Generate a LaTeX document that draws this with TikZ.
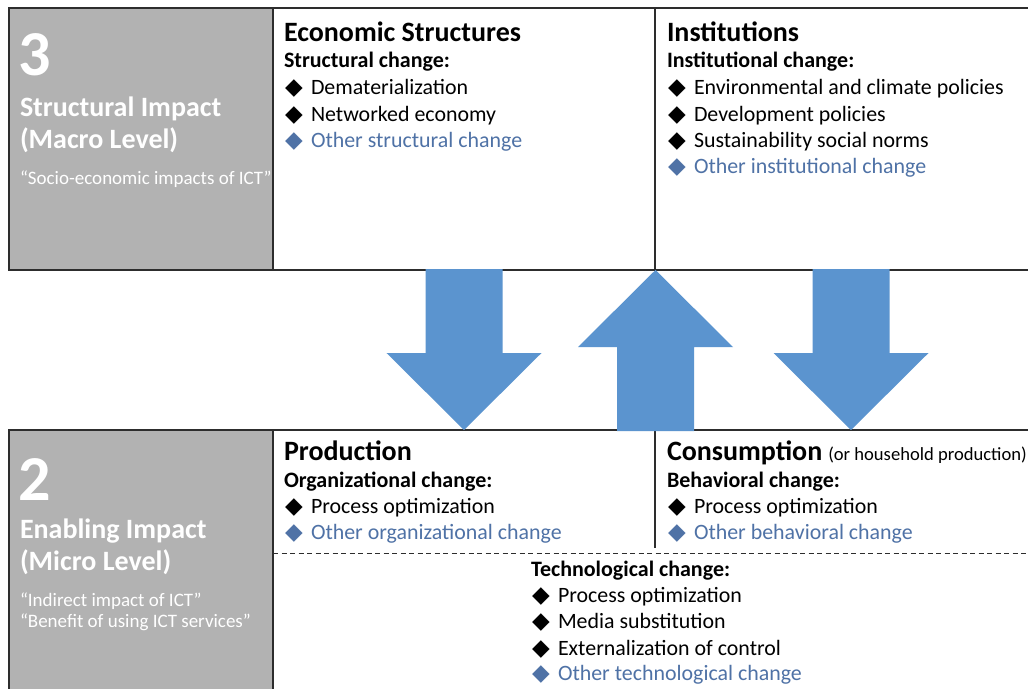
\documentclass[tikz,border=0pt]{standalone}
\usepackage{fontspec}
\setmainfont{Carlito}
\newfontfamily\symfont{DejaVu Sans}

\definecolor{panelgray}{RGB}{178,178,178}
\definecolor{arrowblue}{RGB}{91,148,207}
\definecolor{otherblue}{RGB}{79,114,166}
\definecolor{framegray}{RGB}{45,45,45}

% bullet glyph followed by a fixed gap
\newcommand{\bulletmark}{\makebox[26pt][l]{\symfont\fontsize{23}{23}\selectfont ◆}}

\tikzset{
  txt/.style={anchor=base west, inner sep=0pt, outer sep=0pt},
  heading/.style={txt, font=\fontsize{28}{32}\selectfont\bfseries},
  subhead/.style={txt, font=\fontsize{22}{26}\selectfont\bfseries},
  item/.style={txt, font=\fontsize{21.9}{26}\selectfont},
  otheritem/.style={item, text=otherblue},
  aside/.style={txt, font=\fontsize{18.6}{22}\selectfont},
  bignum/.style={txt, text=white, font=\fontsize{64}{64}\selectfont\bfseries},
  level/.style={txt, text=white, font=\fontsize{28}{32}\selectfont\bfseries},
  quote/.style={txt, text=white, font=\fontsize{19}{22}\selectfont},
  frameline/.style={draw=framegray, line width=1.3pt},
  dashline/.style={draw=framegray, line width=1pt, dash pattern=on 5pt off 3.5pt},
  blockarrow/.style={fill=arrowblue, draw=none},
}

\begin{document}
\begin{tikzpicture}[x=1pt, y=-1pt]
\useasboundingbox[fill=white] (0,0) rectangle (1028,689);

% ---- grey level panels ----
\fill[panelgray] (9,8) rectangle (273,270);
\fill[panelgray] (9,430) rectangle (273,689);

% ---- frame of the macro level ----
\draw[frameline] (1028,8) -- (9,8) -- (9,270) -- (1028,270);
\draw[frameline] (273,8) -- (273,270);
\draw[frameline] (655,8) -- (655,270);

% ---- frame of the micro level ----
\draw[frameline] (1028,430) -- (9,430) -- (9,689);
\draw[frameline] (273,430) -- (273,689);
\draw[frameline] (655,430) -- (655,548);
\draw[dashline] (273,553) -- (1028,553);

% ---- block arrows between the levels ----
\fill[blockarrow] (425.5,269) -- (502.5,269) -- (502.5,353) -- (541.5,353)
  -- (464,430) -- (386.5,353) -- (425.5,353) -- cycle;
\fill[blockarrow] (655.5,270) -- (733,347) -- (694,347) -- (694,431)
  -- (617,431) -- (617,347) -- (578,347) -- cycle;
\fill[blockarrow] (812.5,269) -- (889.5,269) -- (889.5,353) -- (928.5,353)
  -- (851,430) -- (773.5,353) -- (812.5,353) -- cycle;

% ---- level 3 panel ----
\node[bignum] (n3) at (19,75) {3};
\node[level] (l3a) at (20,116) {Structural Impact};
\node[level] (l3b) at (20,148) {(Macro Level)};
\node[quote] (q3) at (20,184) {“Socio-economic impacts of ICT”};

% ---- economic structures ----
\node[heading] (econ) at (284,41) {Economic Structures};
\node[subhead] (econsub) at (284,67) {Structural change:};
\node[item] (econ1) at (285,94) {\bulletmark Dematerialization};
\node[item] (econ2) at (285,121) {\bulletmark Networked economy};
\node[otheritem] (econ3) at (285,147) {\bulletmark Other structural change};

% ---- institutions ----
\node[heading] (inst) at (667,41) {Institutions};
\node[subhead] (instsub) at (667,67) {Institutional change:};
\node[item] (inst1) at (668,94) {\bulletmark Environmental and climate policies};
\node[item] (inst2) at (668,121) {\bulletmark Development policies};
\node[item] (inst3) at (668,147) {\bulletmark Sustainability social norms};
\node[otheritem] (inst4) at (668,173) {\bulletmark Other institutional change};

% ---- level 2 panel ----
\node[bignum] (n2) at (19,500) {2};
\node[level] (l2a) at (20,538) {Enabling Impact};
\node[level] (l2b) at (20,570) {(Micro Level)};
\node[quote] (q2a) at (20,606) {“Indirect impact of ICT”};
\node[quote] (q2b) at (20,627) {“Benefit of using ICT services”};

% ---- production ----
\node[heading] (prod) at (284,460) {Production};
\node[subhead] (prodsub) at (284,487) {Organizational change:};
\node[item] (prod1) at (285,513) {\bulletmark Process optimization};
\node[otheritem] (prod2) at (285,539) {\bulletmark Other organizational change};

% ---- consumption ----
\node[heading] (cons) at (667,460) {Consumption};
\node[aside] (consnote) at ([xshift=6pt]cons.base east) {(or household production)};
\node[subhead] (conssub) at (667,487) {Behavioral change:};
\node[item] (cons1) at (668,513) {\bulletmark Process optimization};
\node[otheritem] (cons2) at (668,539) {\bulletmark Other behavioral change};

% ---- technological change ----
\node[subhead] (tech) at (531,576) {Technological change:};
\node[item] (tech1) at (532,602) {\bulletmark Process optimization};
\node[item] (tech2) at (532,628) {\bulletmark Media substitution};
\node[item] (tech3) at (532,655) {\bulletmark Externalization of control};
\node[otheritem] (tech4) at (532,680) {\bulletmark Other technological change};
\end{tikzpicture}
\end{document}
